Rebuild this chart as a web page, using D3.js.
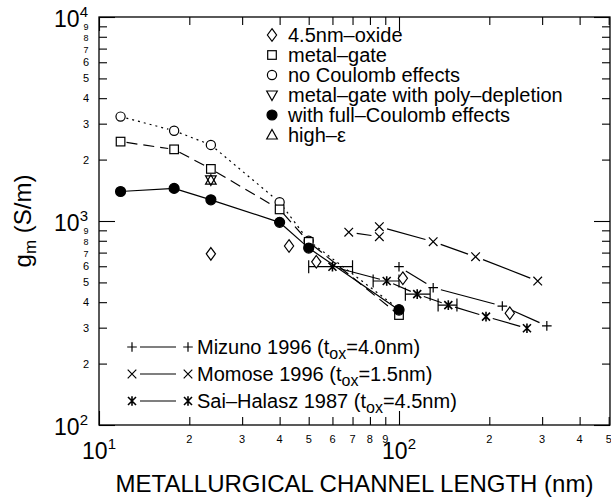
<!DOCTYPE html>
<head>
    <meta charset="utf-8">
    <title>gm vs channel length</title>
    <style>
        body { margin: 0; background: #fff; }
        text { font-family: "Liberation Sans", Arial, sans-serif; fill: #000; }
    </style>
    <script src="https://cdn.jsdelivr.net/npm/d3@7"></script>
</head>
<body>
    <script>
        // simulation results, [L (nm), gm (S/m)]
        var noCoulomb = [[11.8, 3250], [17.8, 2770], [23.6, 2360], [40, 1235], [50, 800], [100, 370]];
        var metalGate = [[11.8, 2450], [17.8, 2245], [23.6, 1800], [40, 1140], [50, 790], [100, 346]];
        var fullCoulomb = [[11.8, 1395], [17.8, 1445], [23.6, 1270], [40, 985], [50, 737], [100, 366]];
        var polyDepletion = [[23.6, 1590]];
        var highK = [[23.6, 1585]];
        var oxide45 = [[23.6, 690], [43, 754], [53, 631], [103, 524], [234, 353]];

        // measured data
        var mizuno = [[100, 597], [130, 471], [221, 383], [311, 306]];
        var momoseA = [[68, 881], [86, 838]];
        var momoseB = [[86, 938], [130, 792], [180, 668], [290, 508]];
        // [L, gm, L low, L high]
        var saiHalasz = [[60, 597, 50, 70], [91, 508, 82, 100], [115, 438, 105, 127], [146, 387, 135, 156], [195, 340], [267, 298]];

        var topLegend = [
            ["diamond", "4.5nm\u2013oxide"],
            ["square", "metal\u2013gate"],
            ["circle", "no Coulomb effects"],
            ["tridown", "metal\u2013gate with poly\u2013depletion"],
            ["filled", "with full\u2013Coulomb effects"],
            ["triup", "high\u2013\u03b5"]
        ];
        var bottomLegend = [
            ["plus", "Mizuno 1996 (t", "=4.0nm)"],
            ["cross", "Momose 1996 (t", "=1.5nm)"],
            ["star", "Sai\u2013Halasz 1987 (t", "=4.5nm)"]
        ];

        var xMajor = [10, 100];
        var xMinor = [20, 30, 40, 50, 60, 70, 80, 90, 200, 300, 400, 500];
        var yMajor = [100, 1000, 10000];
        var yMinor = [200, 300, 400, 500, 600, 700, 800, 900, 2000, 3000, 4000, 5000, 6000, 7000, 8000, 9000];
        var xMax = 505;

        var pLeft = 99, pTop = 17, pBottom = 425;

        var x = d3.scaleLog().domain([10, 1000]).range([pLeft, pLeft + 600]);
        var y = d3.scaleLog().domain([100, 10000]).range([pBottom, pTop]);
        var pRight = x(xMax);

        var svg = d3.select("body")
            .append("svg")
            .attr("width", 611)
            .attr("height", 500);

        // frame
        svg.append("rect")
            .attr("x", pLeft).attr("y", pTop)
            .attr("width", pRight - pLeft).attr("height", pBottom - pTop)
            .attr("fill", "none").attr("stroke", "#000").attr("stroke-width", 1.3);

        function ticks(axisFn, scale, vals, size, tr) {
            var g = svg.append("g")
                .attr("transform", tr)
                .call(axisFn(scale).tickValues(vals).tickSize(-size).tickSizeOuter(0).tickFormat(""));
            g.select(".domain").remove();
            g.selectAll("line").attr("stroke", "#000").attr("stroke-width", 1.1);
        }
        ticks(d3.axisBottom, x, xMajor, 14, "translate(0," + pBottom + ")");
        ticks(d3.axisBottom, x, xMinor, 8, "translate(0," + pBottom + ")");
        ticks(d3.axisTop, x, xMajor, 14, "translate(0," + pTop + ")");
        ticks(d3.axisTop, x, xMinor, 8, "translate(0," + pTop + ")");
        ticks(d3.axisLeft, y, yMajor, 16, "translate(" + pLeft + ",0)");
        ticks(d3.axisLeft, y, yMinor, 8, "translate(" + pLeft + ",0)");
        ticks(d3.axisRight, y, yMajor, 16, "translate(" + pRight + ",0)");
        ticks(d3.axisRight, y, yMinor, 8, "translate(" + pRight + ",0)");

        // tick labels
        function lead(v) { return String(v).charAt(0); }
        svg.selectAll(".xminor").data(xMinor).enter().append("text")
            .attr("x", d => x(d)).attr("y", 443)
            .attr("text-anchor", "middle").style("font-size", "11px")
            .text(lead);
        svg.selectAll(".yminor").data(yMinor).enter().append("text")
            .attr("x", 86).attr("y", d => y(d) + 4)
            .attr("text-anchor", "middle")
            .style("font-size", d => +lead(d) >= 7 ? "9px" : "11px")
            .text(lead);

        xMajor.forEach(function (v) {
            var t = svg.append("text").attr("x", x(v)).attr("y", 459)
                .attr("text-anchor", "middle").style("font-size", "23px");
            t.append("tspan").text("10");
            t.append("tspan").attr("dy", -10).style("font-size", "15px").text(Math.round(Math.log10(v)));
        });
        yMajor.forEach(function (v) {
            var t = svg.append("text").attr("x", 88).attr("y", y(v) + 10)
                .attr("text-anchor", "end").style("font-size", "23px");
            t.append("tspan").text("10");
            t.append("tspan").attr("dy", -10).style("font-size", "15px").text(Math.round(Math.log10(v)));
        });

        // axis titles
        svg.append("text")
            .attr("x", (pLeft + pRight) / 2).attr("y", 492)
            .attr("text-anchor", "middle").style("font-size", "24px")
            .text("METALLURGICAL CHANNEL LENGTH (nm)");
        var yt = svg.append("text")
            .attr("transform", "translate(31," + ((pTop + pBottom) / 2) + ") rotate(-90)")
            .attr("text-anchor", "middle").style("font-size", "24px");
        yt.append("tspan").text("g");
        yt.append("tspan").attr("dy", 5).style("font-size", "17px").text("m");
        yt.append("tspan").attr("dy", -5).text(" (S/m)");

        // markers
        function marker(g, type, cx, cy) {
            var s = 1.2;
            if (type === "circle" || type === "filled") {
                g.append("circle").attr("cx", cx).attr("cy", cy).attr("r", type === "filled" ? 5 : 4.6)
                    .attr("fill", type === "filled" ? "#000" : "#fff").attr("stroke", "#000").attr("stroke-width", s);
            } else if (type === "square") {
                g.append("rect").attr("x", cx - 4.3).attr("y", cy - 4.3).attr("width", 8.6).attr("height", 8.6)
                    .attr("fill", "#fff").attr("stroke", "#000").attr("stroke-width", s);
            } else if (type === "diamond") {
                g.append("path").attr("d", "M" + cx + "," + (cy - 6.3) + "L" + (cx + 4.6) + "," + cy + "L" + cx + "," + (cy + 6.3) + "L" + (cx - 4.6) + "," + cy + "Z")
                    .attr("fill", "#fff").attr("stroke", "#000").attr("stroke-width", s);
            } else if (type === "triup") {
                g.append("path").attr("d", "M" + cx + "," + (cy - 5.5) + "L" + (cx + 5.3) + "," + (cy + 4) + "L" + (cx - 5.3) + "," + (cy + 4) + "Z")
                    .attr("fill", "none").attr("stroke", "#000").attr("stroke-width", s);
            } else if (type === "tridown") {
                g.append("path").attr("d", "M" + cx + "," + (cy + 5.5) + "L" + (cx + 5.3) + "," + (cy - 4) + "L" + (cx - 5.3) + "," + (cy - 4) + "Z")
                    .attr("fill", "none").attr("stroke", "#000").attr("stroke-width", s);
            } else {
                var r = 4.8, d = "";
                if (type === "plus" || type === "star") d += "M" + cx + "," + (cy - r) + "V" + (cy + r);
                if (type === "plus") d += "M" + (cx - r) + "," + cy + "H" + (cx + r);
                if (type === "cross" || type === "star") {
                    var k = type === "star" ? 4 : 4.3;
                    d += "M" + (cx - k) + "," + (cy - k) + "L" + (cx + k) + "," + (cy + k) +
                         "M" + (cx - k) + "," + (cy + k) + "L" + (cx + k) + "," + (cy - k);
                }
                g.append("path").attr("d", d).attr("fill", "none").attr("stroke", "#000")
                    .attr("stroke-width", type === "star" ? 1.6 : 1.2);
            }
        }

        // line with small gaps round the symbols
        function gapLine(g, pts, gap, dash) {
            for (var i = 1; i < pts.length; i++) {
                var x0 = x(pts[i - 1][0]), y0 = y(pts[i - 1][1]);
                var x1 = x(pts[i][0]), y1 = y(pts[i][1]);
                var len = Math.hypot(x1 - x0, y1 - y0);
                if (len <= 2 * gap) continue;
                var ux = (x1 - x0) / len, uy = (y1 - y0) / len;
                g.append("line")
                    .attr("x1", x0 + ux * gap).attr("y1", y0 + uy * gap)
                    .attr("x2", x1 - ux * gap).attr("y2", y1 - uy * gap)
                    .attr("stroke", "#000").attr("stroke-width", 1.2)
                    .attr("stroke-dasharray", dash || null);
            }
        }

        var plot = svg.append("g").attr("id", "plot");

        gapLine(plot, noCoulomb, 6, "2,4");
        gapLine(plot, metalGate, 6, "11,6");
        gapLine(plot, fullCoulomb, 4, null);
        gapLine(plot, mizuno, 8, null);
        gapLine(plot, momoseA, 8, null);
        gapLine(plot, momoseB, 8, null);
        gapLine(plot, saiHalasz, 7, null);

        // error bars on Sai-Halasz
        saiHalasz.filter(d => d.length > 2).forEach(function (d) {
            var yy = y(d[1]);
            plot.append("path")
                .attr("d", "M" + x(d[2]) + "," + yy + "H" + x(d[3]) +
                    "M" + x(d[2]) + "," + (yy - 6.5) + "V" + (yy + 6.5) +
                    "M" + x(d[3]) + "," + (yy - 6.5) + "V" + (yy + 6.5))
                .attr("fill", "none").attr("stroke", "#000").attr("stroke-width", 1.2);
        });

        function points(data, type) {
            data.forEach(function (d) { marker(plot, type, x(d[0]), y(d[1])); });
        }
        points(oxide45, "diamond");
        points(noCoulomb, "circle");
        points(metalGate, "square");
        points(fullCoulomb, "filled");
        points(polyDepletion, "tridown");
        points(highK, "triup");
        points(mizuno, "plus");
        points(momoseA, "cross");
        points(momoseB, "cross");
        points(saiHalasz, "star");

        // top legend
        var lg = svg.append("g").attr("id", "legend");
        topLegend.forEach(function (d, i) {
            var cy = 35 + i * 20;
            marker(lg, d[0], 272, cy);
            lg.append("text").attr("x", 288).attr("y", cy + 7)
                .style("font-size", "20px").text(d[1]);
        });

        // bottom legend
        bottomLegend.forEach(function (d, i) {
            var cy = 347 + i * 27;
            marker(lg, d[0], 132, cy);
            marker(lg, d[0], 188, cy);
            lg.append("line").attr("x1", 140).attr("x2", 176).attr("y1", cy).attr("y2", cy)
                .attr("stroke", "#000").attr("stroke-width", 1.2);
            var t = lg.append("text").attr("x", 197).attr("y", cy + 7).style("font-size", "20px");
            t.append("tspan").text(d[1]);
            t.append("tspan").attr("dy", 5).style("font-size", "16px").text("ox");
            t.append("tspan").attr("dy", -5).text(d[2]);
        });
    </script>
</body>
